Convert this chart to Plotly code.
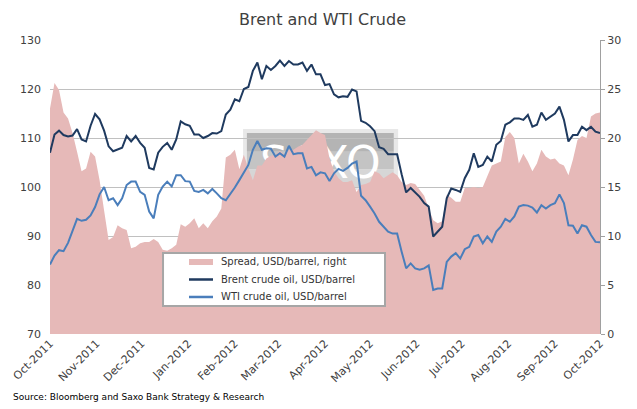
import pandas as pd
import plotly.graph_objects as go

# Readings every 3 days from 1 Oct 2011
brent = [
    107.0, 110.7, 111.5, 110.6, 110.3, 110.5, 111.8, 109.7, 109.3, 112.5,
    114.9, 113.8, 111.5, 108.3, 107.3, 107.6, 108.0, 110.4, 109.3, 110.4,
    109.0, 108.0, 103.9, 103.6, 107.0, 108.2, 109.0, 107.6, 109.7, 113.4,
    112.8, 112.5, 110.7, 110.7, 110.0, 110.4, 111.0, 110.9, 111.4, 114.8,
    115.8, 117.9, 117.5, 120.0, 120.4, 123.7, 125.4, 122.0, 124.7, 123.9,
    124.7, 125.8, 124.7, 125.7, 125.0, 125.0, 125.4, 123.7, 125.0, 123.0,
    123.0, 120.8, 121.0, 118.9, 118.3, 118.5, 118.4, 119.9, 119.5, 113.5,
    113.1, 112.4, 111.4, 108.1, 107.8, 106.7, 106.7, 106.7, 102.6, 98.9,
    99.8, 99.0, 98.0, 96.7, 96.0, 89.9, 90.9, 91.9, 97.7, 99.7,
    99.4, 99.0, 101.8, 103.5, 106.9, 104.1, 104.5, 106.2, 105.2, 108.6,
    109.4, 112.7, 113.2, 114.0, 114.0, 113.7, 114.7, 112.3, 112.7, 115.2,
    113.7, 114.4, 115.0, 116.4, 113.7, 109.3, 110.6, 110.6, 112.3, 111.6,
    112.3, 111.3, 111.0,
]
wti = [
    84.2, 86.0, 87.1, 86.9, 88.6, 91.2, 93.5, 93.1, 93.3, 94.2,
    95.9, 98.5, 100.0, 97.3, 97.7, 96.3, 97.7, 100.4, 101.1, 101.1,
    99.0, 98.4, 95.0, 93.6, 98.4, 100.1, 101.1, 100.1, 102.4, 102.4,
    101.2, 101.1, 99.2, 99.0, 99.4, 98.7, 99.6, 98.7, 97.7, 97.3,
    98.5, 99.9, 101.4, 103.1, 104.5, 107.6, 109.4, 107.6, 107.9, 107.8,
    106.2, 106.9, 106.2, 108.4, 106.7, 106.9, 106.9, 103.8, 104.1, 102.4,
    103.0, 102.8, 101.2, 102.8, 103.7, 103.3, 103.9, 104.8, 105.2, 98.2,
    97.3, 96.0, 94.6, 92.9, 91.9, 90.9, 90.5, 90.5, 86.8, 83.4,
    84.4, 83.4, 83.1, 83.4, 84.0, 79.0, 79.3, 79.3, 84.7, 85.8,
    86.5, 85.4, 87.3, 87.8, 89.9, 90.2, 88.5, 89.9, 88.8, 90.9,
    91.9, 93.5, 92.9, 94.0, 96.0, 96.3, 96.2, 95.8, 94.8, 96.3,
    95.6, 96.3, 96.7, 98.5, 96.7, 92.2, 92.1, 90.5, 92.2, 91.9,
    90.2, 88.8, 88.7,
]
spread = [
    23.0, 25.6, 24.9, 22.6, 22.0, 20.5, 18.6, 16.6, 16.9, 18.6,
    18.1, 15.7, 12.6, 9.6, 9.9, 11.1, 10.8, 10.6, 8.75, 8.9,
    9.25, 9.4, 9.4, 9.7, 9.4, 8.6, 8.5, 8.75, 9.1, 11.2,
    10.95, 11.3, 11.8, 10.8, 11.3, 10.8, 11.5, 12.0, 12.8, 18.0,
    18.3, 18.8, 16.8, 18.3, 16.9, 15.7, 17.2, 17.2, 17.9, 18.2,
    18.3, 18.7, 18.3, 18.8, 18.8, 19.1, 19.3, 19.8, 20.3, 20.8,
    20.5, 20.3, 17.9, 16.6, 15.9, 15.5, 15.5, 15.7, 14.5, 15.2,
    15.3, 15.5, 16.6, 16.4, 15.9, 16.2, 16.5, 16.2, 15.5, 15.2,
    15.4, 15.3, 14.7, 14.1, 12.8, 11.6, 11.3, 11.5, 14.2, 13.9,
    13.5, 13.5, 14.9, 14.9, 15.0, 14.9, 15.0, 16.2, 17.2, 17.4,
    17.6, 20.1, 20.6, 20.0, 17.4, 18.4, 17.6, 16.6, 17.4, 18.8,
    18.1, 17.8, 17.9, 17.4, 17.2, 16.2, 17.8, 19.8, 20.2, 20.0,
    22.2, 22.5, 22.6,
]
dates = pd.date_range("2011-10-01", periods=len(brent), freq="3D")

month_ticks = pd.date_range("2011-10-01", "2012-10-01", freq="MS")
month_labels = [d.strftime("%b-%Y") for d in month_ticks]

names = ["Spread, USD/barrel, right", "Brent crude oil, USD/barrel", "WTI crude oil, USD/barrel"]
colors = ["#e6b9b8", "#1f3a5f", "#4a7ebb"]

FONT = "DejaVu Sans"
TXT = "#404040"

fig = go.Figure()
# area goes on the main axis so the overlaid price lines sit on top of it
fig.add_scatter(
    x=dates, y=spread, name=names[0],
    mode="lines", line=dict(width=0, color=colors[0]),
    fill="tozeroy", fillcolor=colors[0], yaxis="y",
)
fig.add_scatter(
    x=dates, y=brent, name=names[1],
    mode="lines", line=dict(width=2, color=colors[1]), yaxis="y2",
)
fig.add_scatter(
    x=dates, y=wti, name=names[2],
    mode="lines", line=dict(width=2, color=colors[2]), yaxis="y2",
)

# faint SAXO watermark, under everything
wm = dict(type="rect", xref="paper", yref="paper", layer="below", line_width=0)
fig.add_shape(**wm, x0=0.351, x1=0.633, y0=0.490, y1=0.697, fillcolor="#e8e8e8")
fig.add_shape(**wm, x0=0.358, x1=0.625, y0=0.62, y1=0.684, fillcolor="#b4b4b4")
fig.add_shape(**wm, x0=0.358, x1=0.625, y0=0.56, y1=0.62, fillcolor="#c4c4c4")
fig.add_shape(**wm, x0=0.358, x1=0.625, y0=0.50, y1=0.56, fillcolor="#d6d6d6")
fig.add_shape(**wm, x0=0.358, x1=0.625, y0=0.50, y1=0.684, fillcolor="rgba(0,0,0,0)",
              label=dict(text="SAXO", font=dict(family=FONT, size=44, color="white"),
                         textposition="middle center", padding=0))

# hand-drawn legend box (plotly's own legend rows are too tall here)
lg = dict(xref="paper", yref="paper", layer="above")
fig.add_shape(type="rect", **lg, x0=0.2055, x1=0.6091, y0=0.0952, y1=0.2755,
              fillcolor="white", line=dict(color="#a6a6a6", width=2))
row_y = [0.2449, 0.1854, 0.1259]
fig.add_shape(type="rect", **lg, x0=0.2527, x1=0.2964, y0=0.2347, y1=0.2551,
              fillcolor=colors[0], line_width=0)
for i in (1, 2):
    fig.add_shape(type="line", **lg, x0=0.2527, x1=0.2964, y0=row_y[i], y1=row_y[i],
                  line=dict(color=colors[i], width=2.5))
legend_notes = [
    dict(text=n, xref="paper", yref="paper", x=0.3073, y=yy, xanchor="left",
         yanchor="middle", showarrow=False,
         font=dict(family=FONT, size=10, color="#333333"))
    for n, yy in zip(names, row_y)
]

fig.update_xaxes(
    type="date", range=["2011-10-01", "2012-10-01"], automargin=False,
    tickvals=month_ticks, ticktext=month_labels, tickangle=-45,
    showgrid=False, showline=False, zeroline=False, ticks="",
    tickfont=dict(family=FONT, size=11, color=TXT),
)
# page body adds an 8px margin, so the figure is shrunk by that much
fig.update_layout(
    width=629, height=401,
    margin=dict(l=42, r=37, t=32, b=75),
    paper_bgcolor="white", plot_bgcolor="rgba(0,0,0,0)",
    font=dict(family=FONT, size=11, color=TXT),
    title=dict(text="Brent and WTI Crude", x=0.5, xref="container", xanchor="center",
               y=0.971, yref="container", yanchor="middle",
               font=dict(family=FONT, size=16, color=TXT)),
    yaxis=dict(
        side="right", range=[0, 30], dtick=5, showgrid=False, zeroline=False,
        showline=True, linecolor="#a0a0a0", linewidth=1, automargin=False,
        ticks="outside", ticklen=4, tickcolor="#a0a0a0",
        tickfont=dict(family=FONT, size=11, color=TXT),
    ),
    yaxis2=dict(
        overlaying="y", side="left", range=[70, 130], dtick=10, automargin=False,
        showgrid=True, gridcolor="#c0c0c0", gridwidth=1, zeroline=False,
        showline=False, ticklabelstandoff=8,
        tickfont=dict(family=FONT, size=11, color=TXT),
    ),
    showlegend=False,
    annotations=legend_notes + [dict(
        text="Source: Bloomberg and Saxo Bank Strategy & Research",
        xref="paper", yref="paper", x=-0.0709, y=-0.214,
        xanchor="left", yanchor="middle", showarrow=False,
        font=dict(family=FONT, size=9, color="black"),
    )],
)

fig.write_html("out.html")
